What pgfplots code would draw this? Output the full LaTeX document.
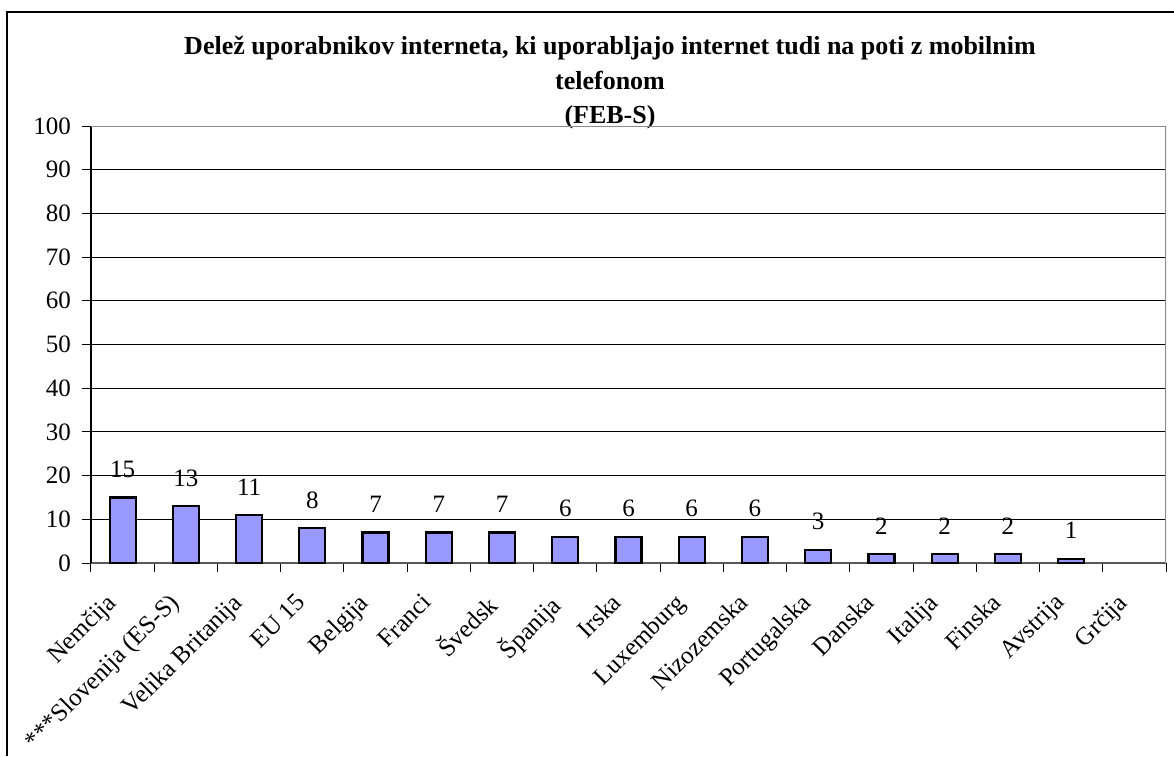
\documentclass[border=0pt]{standalone}
\usepackage{fontspec}
\setmainfont{Liberation Serif}
\usepackage{pgfplots}
\pgfplotsset{compat=1.18}
\definecolor{barblue}{RGB}{153,153,255}

\begin{document}
\begin{tikzpicture}[x=1pt,y=1pt]
\useasboundingbox (-45.5,-96.5) rectangle (541.5,281.5);
% outer chart frame (right and bottom edges are cut off in the reference)
\draw[line width=1pt] (-41.75,-96.5) -- (-41.75,275.35) -- (541.5,275.35);
% title
\node[anchor=base, font=\fontsize{13}{15}\selectfont\bfseries] at (259.5,254) {Delež uporabnikov interneta, ki uporabljajo internet tudi na poti z mobilnim};
\node[anchor=base, font=\fontsize{13}{15}\selectfont\bfseries] at (259.5,236.75) {telefonom};
\node[anchor=base, font=\fontsize{13}{15}\selectfont\bfseries] at (259.5,219.5) {(FEB-S)};

\begin{axis}[
    at={(0,0)}, anchor=south west,
    scale only axis,
    width=537.5pt, height=218.5pt,
    ybar, bar width=13pt,
    xmin=-0.5, xmax=16.5,
    ymin=0, ymax=100,
    ytick={0,10,...,100},
    xtick={-0.5,0.5,...,16.5},
    xticklabels={},
    extra x ticks={0,1,...,16},
    extra x tick labels={Nemčija, ***Slovenija (ES-S), Velika Britanija, EU 15, Belgija, Franci, Švedsk, Španija, Irska, Luxemburg, Nizozemska, Portugalska, Danska, Italija, Finska, Avstrija, Grčija},
    extra x tick style={
        major tick length=0pt,
        tick label style={font=\fontsize{12.5}{15}\selectfont, xshift=-9pt, yshift=-9.5pt, rotate=45, anchor=north east}
    },
    tick align=outside,
    major tick length=4.5pt,
    tick style={black, line width=0.5pt},
    axis x line*=bottom,
    axis y line*=left,
    x axis line style={black!65, line width=1pt},
    y axis line style={black, line width=0.6pt},
    ymajorgrids,
    grid style={black, line width=0.5pt},
    tick label style={font=\fontsize{12.5}{14}\selectfont},
    yticklabel style={xshift=-2pt},
    /pgf/number format/assume math mode=true,
    nodes near coords,
    nodes near coords style={font=\fontsize{12.5}{14}\selectfont, yshift=6pt, text=black},
    ]
    \addplot[fill=barblue, draw=black, line width=1.1pt]
    coordinates {
        (0,15) (1,13) (2,11) (3,8) (4,7) (5,7) (6,7) (7,6) (8,6)
        (9,6) (10,6) (11,3) (12,2) (13,2) (14,2) (15,1)
    };
    \draw[black!45, line width=1pt] (rel axis cs:0,1) -- (rel axis cs:1,1) -- (rel axis cs:1,0);
\end{axis}
\end{tikzpicture}
\end{document}
